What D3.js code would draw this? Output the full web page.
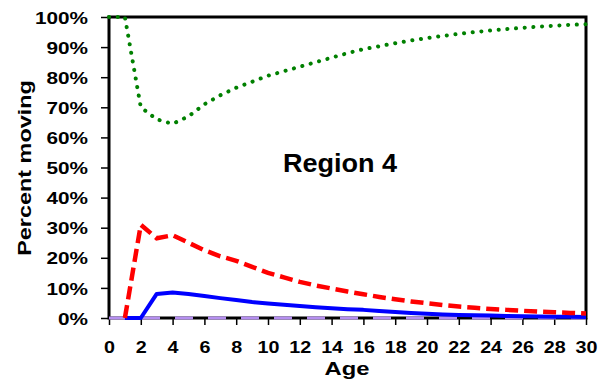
<!DOCTYPE html>
<html>
<head>
<meta charset="utf-8">
<script src="https://cdn.jsdelivr.net/npm/d3@7"></script>
<style>
  body { margin: 0; background: #fff; }
  text { font-family: 'Liberation Sans', Arial, sans-serif; font-weight: bold; fill: #000; }
</style>
</head>
<body>
<svg id="chart" width="599" height="381"></svg>
<script>
// ages 0..30
const ages = d3.range(0, 31)
// percent moving (null = no point)
const green = [100, 100, 70, 66, 64.5, 67, 71, 74, 76.5, 78.5, 80.5, 82, 83.5, 85, 86.5, 88,
  89.3, 90.3, 91.3, 92.2, 93, 93.7, 94.4, 95, 95.5, 96, 96.4, 96.8, 97.1, 97.4, 97.6]
const red = [null, 0, 31, 26.5, 27.5, 25, 22.5, 20.5, 19, 17, 15, 13.5, 12, 10.8, 9.8, 8.8,
  7.9, 7, 6.2, 5.5, 4.9, 4.3, 3.8, 3.4, 3, 2.7, 2.4, 2.1, 1.9, 1.7, 1.5]
const blue = [null, 0, 0, 8, 8.5, 8, 7.3, 6.6, 6, 5.3, 4.8, 4.4, 4, 3.6, 3.2, 2.9,
  2.7, 2.3, 2, 1.7, 1.4, 1.2, 1, 0.9, 0.8, 0.7, 0.6, 0.5, 0.4, 0.4, 0.3]
const purple = ages.map(() => 0)
const xTicks = d3.range(0, 31, 2)
const yTicks = d3.range(0, 101, 10)

const svg = d3.select('#chart')
const m = {left: 109, top: 17, right: 586, bottom: 318}

const x = d3.scaleLinear().domain([0, 30]).range([m.left, m.right])
const y = d3.scaleLinear().domain([0, 100]).range([m.bottom, m.top])

// stretch text to the wide look of the original
function stretch(sel, k) {
  sel.each(function() {
    const w = this.getComputedTextLength()
    d3.select(this).attr('textLength', w * k).attr('lengthAdjust', 'spacingAndGlyphs')
  })
}

// y axis
const yAxis = svg.append('g')
  .attr('transform', `translate(${m.left},0)`)
  .call(d3.axisLeft(y).tickValues(yTicks).tickSize(8).tickPadding(13).tickFormat(d => d + '%'))
yAxis.select('.domain').remove()
yAxis.selectAll('line').attr('stroke', '#000').attr('stroke-width', 1.5)
yAxis.selectAll('text').style('font-size', '17px').attr('dy', '0.36em')
stretch(yAxis.selectAll('text'), 1.22)

// x axis
const xAxis = svg.append('g')
  .attr('transform', `translate(0,${m.bottom})`)
  .call(d3.axisBottom(x).tickValues(xTicks).tickSize(7).tickPadding(16))
xAxis.select('.domain').remove()
xAxis.selectAll('line').attr('stroke', '#000').attr('stroke-width', 1.5)
xAxis.selectAll('text').style('font-size', '17px').attr('dy', '0.71em')
stretch(xAxis.selectAll('text'), 1.16)

// plot frame
svg.append('rect')
  .attr('x', m.left).attr('y', m.top)
  .attr('width', m.right - m.left).attr('height', m.bottom - m.top)
  .attr('fill', 'none').attr('stroke', '#000').attr('stroke-width', 3)

const line = vals => d3.line()
  .defined((d, i) => vals[i] != null)
  .x((d, i) => x(ages[i]))
  .y((d, i) => y(vals[i]))(vals)

svg.append('path').attr('d', line(purple))
  .attr('fill', 'none').attr('stroke', '#b58ff0').attr('stroke-width', 3)
  .attr('stroke-dasharray', '18,15')

svg.append('path').attr('d', line(blue))
  .attr('fill', 'none').attr('stroke', '#0000ff').attr('stroke-width', 4)
  .attr('stroke-linejoin', 'round')

svg.append('path').attr('d', line(red))
  .attr('fill', 'none').attr('stroke', '#ff0000').attr('stroke-width', 4.5)
  .attr('stroke-dasharray', '13,6')

svg.append('path').attr('d', line(green))
  .attr('fill', 'none').attr('stroke', '#008000').attr('stroke-width', 4)
  .attr('stroke-linecap', 'round').attr('stroke-dasharray', '0.1,8.6')

// labels
const region = svg.append('text')
  .attr('x', 340).attr('y', 172).attr('text-anchor', 'middle')
  .style('font-size', '26px').text('Region 4')
stretch(region, 1.04)

const age = svg.append('text')
  .attr('x', 347).attr('y', 375).attr('text-anchor', 'middle')
  .style('font-size', '19px').text('Age')
stretch(age, 1.25)

const ylab = svg.append('text')
  .attr('transform', 'translate(31,168) rotate(-90)').attr('text-anchor', 'middle')
  .style('font-size', '18px').text('Percent moving')
stretch(ylab, 1.3)
</script>
</body>
</html>
